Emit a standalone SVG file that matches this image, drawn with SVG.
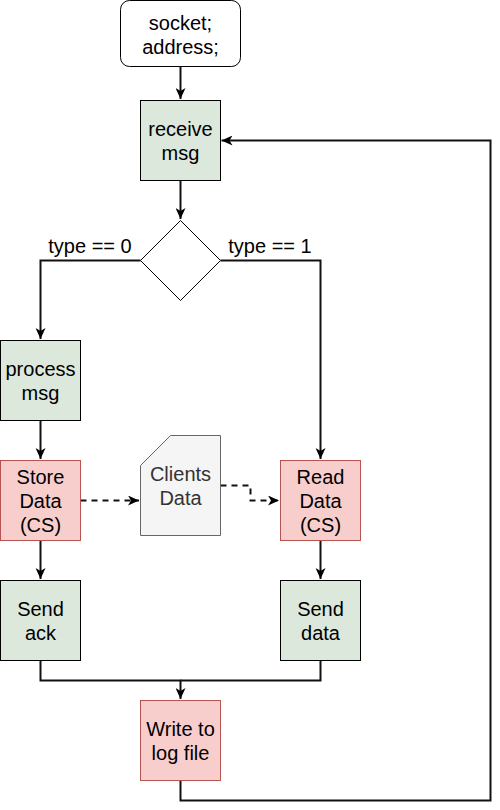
<svg xmlns="http://www.w3.org/2000/svg" width="500" height="810" viewBox="0 0 500 810">
<style>
text{font-family:"Liberation Sans",Arial,sans-serif;font-size:20px;fill:#000;text-anchor:middle}
.g{fill:#dce8dc;stroke:#000;stroke-width:1}
.r{fill:#f8cecc;stroke:#b85450;stroke-width:1}
.c{fill:none;stroke:#111;stroke-width:2}
.d{fill:none;stroke:#111;stroke-width:2;stroke-dasharray:6 5}
</style>
<defs>
<marker id="a" markerWidth="12" markerHeight="10" refX="11" refY="5" orient="auto" markerUnits="userSpaceOnUse">
<path d="M0,0 L11,5 L0,10 L3,5 Z" fill="#000"/>
</marker>
</defs>
<g id="connectors">
<path class="c" d="M180.5,67 V99" marker-end="url(#a)"/>
<path class="c" d="M180.5,181 V219" marker-end="url(#a)"/>
<path class="c" d="M140.5,260.5 H40.5 V339" marker-end="url(#a)"/>
<path class="c" d="M220.5,260.5 H320.5 V459" marker-end="url(#a)"/>
<path class="c" d="M40.5,420.5 V459" marker-end="url(#a)"/>
<path class="c" d="M40.5,540.5 V579" marker-end="url(#a)"/>
<path class="c" d="M320.5,540.5 V579" marker-end="url(#a)"/>
<path class="c" d="M40.5,660.5 V680.5 H180.5 V699" marker-end="url(#a)"/>
<path class="c" d="M320.5,660.5 V680.5 H180.5"/>
<path class="c" d="M180.5,780.5 V800.5 H490.5 V140.5 H221.5" marker-end="url(#a)"/>
<path class="d" d="M80.5,500.5 H139" marker-end="url(#a)"/>
<path class="d" d="M220.5,485.5 H250.5 V500.5 H279" marker-end="url(#a)"/>
<text x="90" y="253">type == 0</text>
<text x="270" y="253">type == 1</text>
</g>
<g id="start">
<rect x="120.5" y="0.5" width="120" height="66" rx="9" fill="#fff" stroke="#000"/>
<text x="180.5" y="30">socket;</text>
<text x="180.5" y="54">address;</text>
</g>
<g id="receive">
<rect class="g" x="140.5" y="100.5" width="80" height="80"/>
<text x="180.5" y="136">receive</text>
<text x="180.5" y="160">msg</text>
</g>
<g id="decision">
<path d="M180.5,220.5 L220.5,260.5 L180.5,300.5 L140.5,260.5 Z" fill="#fff" stroke="#000"/>
</g>
<g id="process">
<rect class="g" x="0.5" y="340.5" width="80" height="80"/>
<text x="40.5" y="376">process</text>
<text x="40.5" y="400">msg</text>
</g>
<g id="store">
<rect class="r" x="0.5" y="460.5" width="80" height="80"/>
<text x="40.5" y="484">Store</text>
<text x="40.5" y="508">Data</text>
<text x="40.5" y="532">(CS)</text>
</g>
<g id="clients">
<path d="M170.5,435.5 H220.5 V535.5 H140.5 V465.5 Z" fill="#f5f5f5" stroke="#666"/>
<text x="180.5" y="481" style="fill:#333">Clients</text>
<text x="180.5" y="505" style="fill:#333">Data</text>
</g>
<g id="read">
<rect class="r" x="280.5" y="460.5" width="80" height="80"/>
<text x="320.5" y="484">Read</text>
<text x="320.5" y="508">Data</text>
<text x="320.5" y="532">(CS)</text>
</g>
<g id="sendack">
<rect class="g" x="0.5" y="580.5" width="80" height="80"/>
<text x="40.5" y="616">Send</text>
<text x="40.5" y="640">ack</text>
</g>
<g id="senddata">
<rect class="g" x="280.5" y="580.5" width="80" height="80"/>
<text x="320.5" y="616">Send</text>
<text x="320.5" y="640">data</text>
</g>
<g id="log">
<rect class="r" x="140.5" y="700.5" width="80" height="80"/>
<text x="180.5" y="736">Write to</text>
<text x="180.5" y="760">log file</text>
</g>
</svg>
